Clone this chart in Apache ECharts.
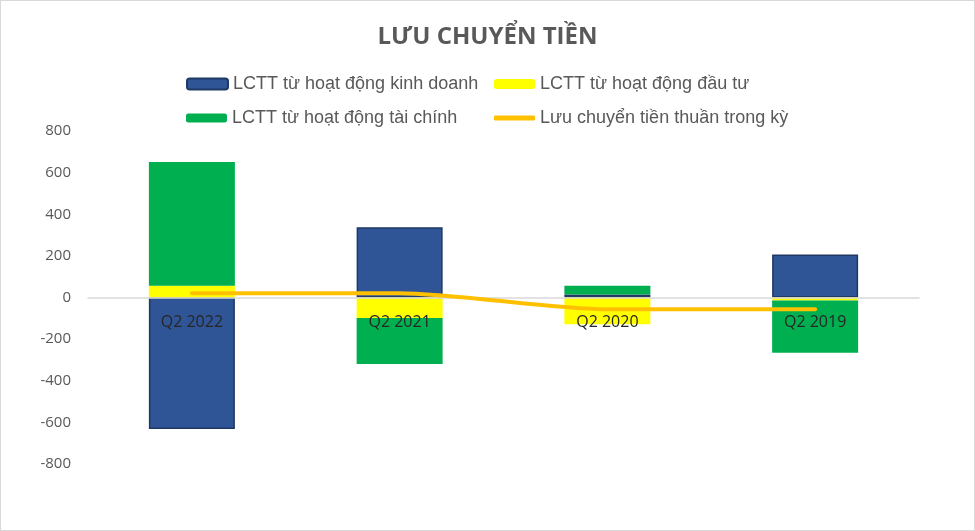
<!DOCTYPE html>
<html><head><meta charset="utf-8">
<script src="https://cdn.jsdelivr.net/npm/echarts@6/dist/echarts.min.js"></script>
<style>html,body{margin:0;padding:0;background:#fff}#c{width:973px;height:529px;border:1px solid #d9d9d9}</style>
</head><body><div id="c"></div>
<script>
const categories = ['Q2 2022','Q2 2021','Q2 2020','Q2 2019'];
const kinhDoanh = [-632, 337, 15, 207];
const dauTu = [57, -99, -128, -15];
const taiChinh = [594, -220, 42, -251];
const thuan = [21, 21, -57, -56];
const yTicks = [-800,-600,-400,-200,0,200,400,600,800];

const names = ['LCTT từ hoạt động kinh doanh','LCTT từ hoạt động đầu tư','LCTT từ hoạt động tài chính','Lưu chuyển tiền thuần trong kỳ'];
const gridTop = 130, gridBottom = 66, H = 529;
const plotH = H - gridTop - gridBottom;
const zeroOffset = -plotH / 2;

const legendText = {fontFamily:'Liberation Sans',fontSize:18,color:'#595959'};
function lg(name, left, top, h, extra){
  return Object.assign({padding:0,left,top,itemWidth:41,itemHeight:h,textStyle:legendText,data:[{name}]}, extra||{});
}
const chart = echarts.init(document.getElementById('c'));
chart.setOption({
  animation:false,
  title:{text:'LƯU CHUYỂN TIỀN',left:'center',top:19,textStyle:{fontFamily:'Open Sans',fontWeight:'bold',fontSize:24,color:'#595959'}},
  legend:[
    lg(names[0],185,74,11),
    lg(names[2],185,108,9),
    lg(names[1],493,74,10),
    Object.assign(lg(names[3],493,108,5),{data:[{name:names[3],icon:'roundRect',itemStyle:{color:'#ffc000'}}]})
  ],
  grid:{left:87,right:55,top:gridTop,bottom:gridBottom},
  xAxis:{type:'category',data:categories,offset:zeroOffset,z:10,
    axisLine:{onZero:false,lineStyle:{color:'#d9d9d9',width:1.5}},
    axisTick:{show:false},
    axisLabel:{fontFamily:'Open Sans',fontSize:16,color:'#262626',margin:17}},
  yAxis:{type:'value',min:-800,max:800,interval:200,
    splitLine:{show:false},axisLine:{show:false},axisTick:{show:false},
    axisLabel:{fontFamily:'Open Sans',fontSize:15,color:'#595959',margin:17,
      formatter:v=>yTicks.includes(v)?String(v):''}},
  series:[
    {name:names[0],type:'bar',stack:'s',data:kinhDoanh,barWidth:86,
      itemStyle:{color:'#2f5597',borderColor:'#1f3864',borderWidth:1.5}},
    {name:names[1],type:'bar',stack:'s',data:dauTu,itemStyle:{color:'#ffff00'}},
    {name:names[2],type:'bar',stack:'s',data:taiChinh,itemStyle:{color:'#00b050'}},
    {name:names[3],type:'line',data:thuan,smooth:0.25,symbol:'none',z:12,
      lineStyle:{color:'#ffc000',width:4,cap:'round'},itemStyle:{color:'#ffc000'}}
  ]
});
</script></body></html>
